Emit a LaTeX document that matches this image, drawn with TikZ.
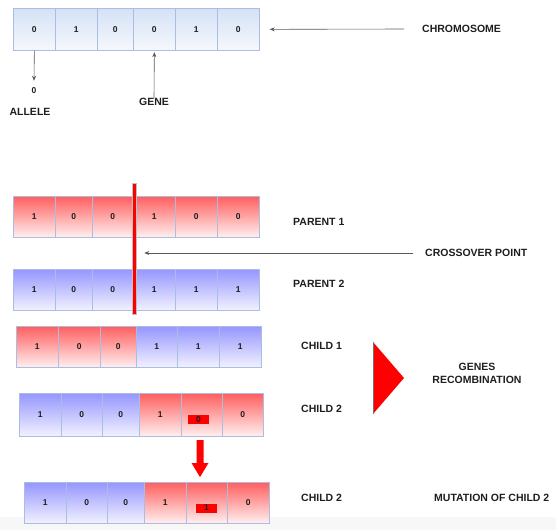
\documentclass[tikz,border=0pt]{standalone}
\usepackage{fontspec}
\setmainfont{Liberation Sans}
\usetikzlibrary{arrows.meta}
\definecolor{redtop}{RGB}{255,95,95}
\definecolor{redbot}{RGB}{255,240,240}
\definecolor{bluetop}{RGB}{150,150,255}
\definecolor{bluebot}{RGB}{242,242,255}
\definecolor{chromtop}{RGB}{212,225,245}
\definecolor{chrombot}{RGB}{245,248,253}
\definecolor{cellborder}{RGB}{170,190,228}
\definecolor{arrowgray}{RGB}{90,90,90}
\definecolor{txt}{RGB}{30,30,30}
\newcommand\cellrow[4]{%
  \foreach \xa/\xb/\dg/\st [count=\i] in {#4} {
    \pgfmathsetmacro\cw{\xb-\xa}
    \pgfmathsetmacro\ch{#3-#2}
    \node[\st, minimum width=\cw pt, minimum height=\ch pt, anchor=north west] (#1\i) at (\xa,#2) {\dg};
  }}
\tikzset{
  cell/.style={draw=cellborder, line width=0.7pt, inner sep=0pt, text=txt,
    font=\fontsize{8.5}{10}\selectfont\bfseries},
  cellR/.style={cell, top color=redtop, bottom color=redbot},
  cellB/.style={cell, top color=bluetop, bottom color=bluebot},
  cellC/.style={cell, top color=chromtop, bottom color=chrombot},
  lbl/.style={inner sep=0pt, text=txt, font=\fontsize{10.5}{13}\selectfont\bfseries},
  digit/.style={inner sep=0pt, text=txt, font=\fontsize{8.5}{10}\selectfont\bfseries},
  marker/.style={fill=red, inner sep=0pt, minimum width=21pt, minimum height=9pt, text=txt,
    font=\fontsize{8.5}{10}\selectfont\bfseries},
  conn/.style={draw=arrowgray, line width=0.6pt, -{Stealth[length=5pt,width=4pt]}},
}
\begin{document}
\begin{tikzpicture}[x=1pt,y=-1pt]
\useasboundingbox (0,0) rectangle (556,530);
\fill[black!3] (0,517) rectangle (556,530);
% chromosome
\cellrow{ch}{8}{50}{13/55/0/cellC, 55/97/1/cellC, 97/133/0/cellC, 133/175/0/cellC, 175/217/1/cellC, 217/259/0/cellC}
\node[lbl, anchor=west] (chromlbl) at (422,29) {CHROMOSOME};
\node[digit] (allele0) at (34,91) {0};
\node[lbl] (allelelbl) at (30,112) {ALLELE};
\node[lbl] (genelbl) at (154,102) {GENE};
\draw[conn] ([xshift=-18pt]chromlbl.west) -- ([xshift=10pt]ch6.east);
\draw[conn] (ch1.south) -- ([yshift=7pt]allele0.north);
\draw[conn] (genelbl.north) -- ([yshift=-1.5pt]ch4.south);
% parents
\cellrow{pa}{196}{237}{13/55/1/cellR, 55/92/0/cellR, 92/133/0/cellR, 133/175/1/cellR, 175/217/0/cellR, 217/259/0/cellR}
\cellrow{pb}{269}{310}{13/55/1/cellB, 55/92/0/cellB, 92/133/0/cellB, 133/175/1/cellB, 175/217/1/cellB, 217/259/1/cellB}
\node[fill=red, draw=black!25, line width=0.6pt, minimum width=4pt, minimum height=131pt, inner sep=0pt, anchor=north] (xline) at (134,183) {};
\node[lbl, anchor=west] (p1lbl) at (293,222) {PARENT 1};
\node[lbl, anchor=west] (crosslbl) at (425,253) {CROSSOVER POINT};
\node[lbl, anchor=west] (p2lbl) at (293,284) {PARENT 2};
\draw[conn] ([xshift=-12pt]crosslbl.west) -- ([xshift=8pt]xline.east |- crosslbl.west);
% children
\cellrow{ca}{326}{367}{16/58/1/cellR, 58/100/0/cellR, 100/136/0/cellR, 136/177/1/cellB, 177/219/1/cellB, 219/261/1/cellB}
\cellrow{cb}{393}{436}{19/61/1/cellB, 61/102/0/cellB, 102/139/0/cellB, 139/181/1/cellR, 181/222//cellR, 222/263/0/cellR}
\node[marker] (mark1) at (198.5,419.5) {0};
\node[lbl, anchor=west] (c1lbl) at (301,346) {CHILD 1};
\node[lbl, anchor=west] (c2lbl) at (301,409) {CHILD 2};
\fill[red] (373,342) -- (404,378) -- (373,414) -- cycle;
\draw[black!55, line width=0.6pt] (373,342) -- (373,414);
\node[lbl, align=center] (recomb) at (477,373.5) {GENES\\RECOMBINATION};
% mutation
\fill[red] (196.5,440) -- (203.5,440) -- (203.5,463) -- (208.5,463) -- (200,477) -- (191.5,463) -- (196.5,463) -- cycle;
\cellrow{cm}{482}{523}{24/66/1/cellB, 66/107/0/cellB, 107/144/0/cellB, 144/186/1/cellR, 186/227//cellR, 227/269/0/cellR}
\node[marker] (mark2) at (206.5,508) {1};
\node[lbl, anchor=west] (c3lbl) at (301,498) {CHILD 2};
\node[lbl, anchor=west] (mutlbl) at (434,498) {MUTATION OF CHILD 2};
\end{tikzpicture}
\end{document}
